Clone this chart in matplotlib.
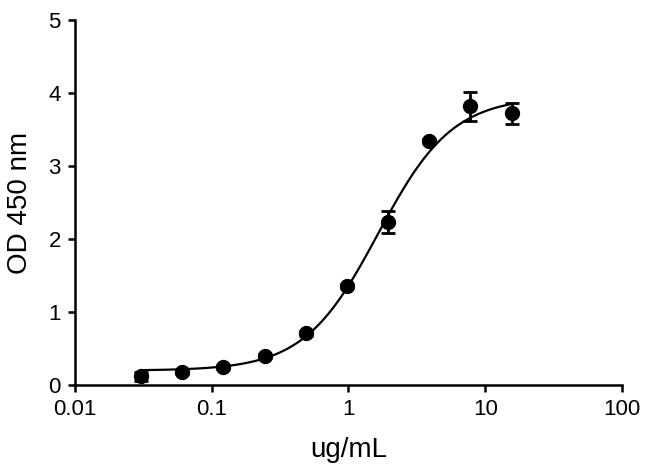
import numpy as np
import matplotlib
matplotlib.use("Agg")
import matplotlib.pyplot as plt

plt.rcParams['font.family'] = ['Liberation Sans', 'DejaVu Sans']

# Data (2-fold dilutions, ug/mL)
conc = [0.0305, 0.061, 0.122, 0.244, 0.4875, 0.975, 1.95, 3.9, 7.8, 15.6]
od = [0.12, 0.18, 0.25, 0.40, 0.71, 1.36, 2.24, 3.34, 3.82, 3.72]
od_err = [0.06, 0.03, 0.03, 0.03, 0.03, 0.03, 0.15, 0.03, 0.2, 0.15]

# 4PL fit parameters
fit_bottom = 0.2
fit_top = 3.95
fit_ec50 = 1.65
fit_hill = 1.6

x_ticks = [0.01, 0.1, 1, 10, 100]
x_ticklabels = ['0.01', '0.1', '1', '10', '100']
y_ticks = [0, 1, 2, 3, 4, 5]

fig = plt.figure(figsize=(6.5, 4.75), dpi=100)
ax = fig.add_axes([0.115, 0.189, 0.842, 0.769])

xc = np.logspace(np.log10(conc[0]), np.log10(conc[-1]), 300)
yc = fit_bottom + (fit_top - fit_bottom) / (1 + (fit_ec50 / xc) ** fit_hill)
ax.plot(xc, yc, color='black', lw=1.6, zorder=2)

ax.errorbar(conc, od, yerr=od_err, fmt='o', color='black', ms=10,
            elinewidth=2, capsize=5, capthick=2, zorder=3)

ax.set_xscale('log')
ax.set_xlim(0.01, 100)
ax.set_ylim(0, 5)
ax.set_xticks(x_ticks)
ax.set_xticklabels(x_ticklabels)
ax.minorticks_off()
ax.set_yticks(y_ticks)

for s in ['top', 'right']:
    ax.spines[s].set_visible(False)
for s in ['left', 'bottom']:
    ax.spines[s].set_linewidth(1.8)
ax.tick_params(axis='both', direction='out', length=5, width=1.8, labelsize=16, pad=5)

ax.set_xlabel('ug/mL', fontsize=20, labelpad=12)
ax.set_ylabel('OD 450 nm', fontsize=20, labelpad=11)

fig.savefig('out.png', dpi=100)
